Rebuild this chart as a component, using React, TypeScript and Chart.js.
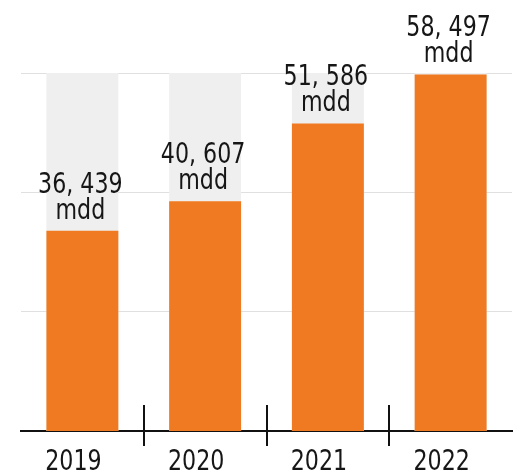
import React, { useEffect, useRef } from 'react';
import { Chart, registerables } from 'chart.js';

Chart.register(...registerables);

const categories = ['2019', '2020', '2021', '2022'];
const values = [36439, 40607, 51586, 58497];
const unitLabel = 'mdd';
const yMin = 8200;
const yMax = 58700;

const FONT = '"DejaVu Sans Condensed", "DejaVu Sans", sans-serif';
const FONT_SIZE = 29;
const SX = 0.85;
const ORANGE = '#F07A21';
const GREY_BAR = '#EFEFEF';
const TEXT = '#161616';

const fmt = (v: number) => v.toLocaleString('en-US').replace(/,/g, ', ');

function drawNarrow(ctx: CanvasRenderingContext2D, text: string, cx: number, baseline: number) {
  ctx.save();
  ctx.translate(cx, baseline);
  ctx.scale(SX, 1);
  ctx.fillText(text, 0, 0);
  ctx.restore();
}

const valueLabels = {
  id: 'valueLabels',
  afterDatasetsDraw(chart: any) {
    const ctx = chart.ctx;
    const meta = chart.getDatasetMeta(0);
    ctx.save();
    ctx.fillStyle = TEXT;
    ctx.font = `${FONT_SIZE}px ${FONT}`;
    ctx.textAlign = 'center';
    ctx.textBaseline = 'alphabetic';
    meta.data.forEach((bar: any, i: number) => {
      drawNarrow(ctx, fmt(values[i]), bar.x - 2, bar.y - 38);
      drawNarrow(ctx, unitLabel, bar.x - 2, bar.y - 12);
    });
    ctx.restore();
  },
};

const axisDecor = {
  id: 'axisDecor',
  afterDraw(chart: any) {
    const ctx = chart.ctx;
    const xs = chart.scales.x;
    const bottom = chart.chartArea.bottom;
    ctx.save();
    ctx.strokeStyle = '#111';
    ctx.lineWidth = 2;
    for (let i = 0; i < categories.length - 1; i++) {
      const x = Math.round((xs.getPixelForValue(i) + xs.getPixelForValue(i + 1)) / 2);
      ctx.beginPath();
      ctx.moveTo(x, bottom - 26);
      ctx.lineTo(x, bottom + 15);
      ctx.stroke();
    }
    ctx.fillStyle = TEXT;
    ctx.font = `${FONT_SIZE}px ${FONT}`;
    ctx.textAlign = 'center';
    ctx.textBaseline = 'alphabetic';
    for (let i = 0; i < categories.length; i++) {
      drawNarrow(ctx, String(xs.getLabelForValue(i)), xs.getPixelForValue(i) - 9, bottom + 39);
    }
    ctx.restore();
  },
};

export default function App() {
  const ref = useRef<HTMLCanvasElement>(null);
  useEffect(() => {
    document.body.style.margin = '0';
    const chart = new Chart(ref.current as HTMLCanvasElement, {
      type: 'bar',
      data: {
        labels: categories,
        datasets: [
          {
            data: values,
            backgroundColor: ORANGE,
            order: 0,
            grouped: false,
            barPercentage: 0.586,
            categoryPercentage: 1,
          } as any,
          {
            data: categories.map(() => yMax),
            backgroundColor: GREY_BAR,
            order: 1,
            grouped: false,
            barPercentage: 0.586,
            categoryPercentage: 1,
          } as any,
        ],
      },
      options: {
        animation: false,
        responsive: true,
        maintainAspectRatio: false,
        layout: { padding: { top: 73, left: 21, right: 6, bottom: 45 } },
        plugins: { legend: { display: false }, tooltip: { enabled: false } },
        scales: {
          x: {
            grid: { display: false, drawTicks: false },
            border: { display: true, color: '#111', width: 2 },
            ticks: { display: false },
          },
          y: {
            min: yMin,
            max: yMax,
            z: 1,
            afterBuildTicks: (scale: any) => {
              scale.ticks = [0, 1, 2, 3].map((k) => ({ value: yMin + (k * (yMax - yMin)) / 3 }));
            },
            ticks: { display: false },
            grid: { color: 'rgba(0,0,0,0.12)', drawTicks: false, lineWidth: 1 },
            border: { display: false },
          },
        },
      },
      plugins: [valueLabels, axisDecor],
    });
    return () => chart.destroy();
  }, []);
  return (
    <div style={{ width: 518, height: 476, position: 'relative' }}>
      <canvas ref={ref} />
    </div>
  );
}
